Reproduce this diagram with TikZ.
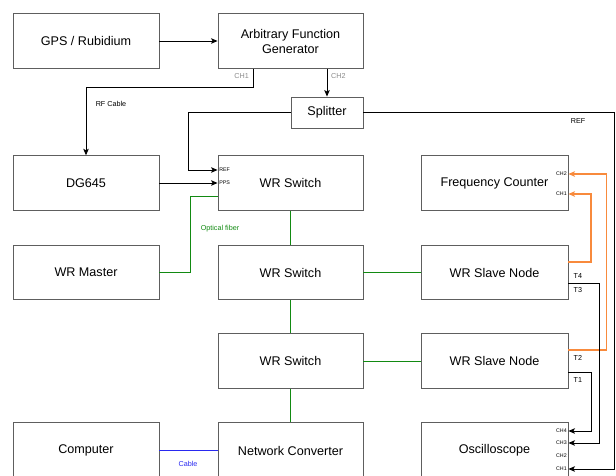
\documentclass[tikz,border=0pt]{standalone}
\usepackage{fontspec}
\setmainfont{Liberation Sans}
\usetikzlibrary{arrows.meta}
\definecolor{frame}{HTML}{5E5E5E}
\definecolor{fibre}{HTML}{128A12}
\definecolor{copper}{HTML}{2929F0}
\definecolor{timing}{HTML}{F88A3C}
\definecolor{chan}{HTML}{8A8A8A}

\begin{document}
\begin{tikzpicture}[x=1pt,y=-1pt,
  box/.style={draw=frame,line width=.9pt,minimum width=146pt,minimum height=54.5pt,inner sep=2pt,
    align=center,font=\fontsize{12.6}{15}\selectfont},
  narrow/.style={box,minimum width=147pt},
  port/.style={inner sep=1.5pt,font=\fontsize{5.3}{6}\selectfont},
  lab/.style={inner sep=1pt,font=\fontsize{7.2}{8}\selectfont},
  arr/.style={line width=.9pt,-{Stealth[length=6.5pt,width=5.5pt,inset=1.5pt]}},
  fiber/.style={fibre,line width=.9pt},
  lan/.style={copper,line width=.9pt},
  tsig/.style={timing,line width=1.2pt,-{Stealth[length=6.5pt,width=5.5pt,inset=1.5pt]}}]
\useasboundingbox (0,0) rectangle (616,475);
% left column
\node[box] (gps) at (86,41) {GPS / Rubidium};
\node[box] (dg) at (86,183) {DG645};
\node[box] (master) at (86,272.5) {WR Master};
\node[box,minimum height=57pt] (pc) at (86,450.5) {Computer};
% middle column
\node[box,minimum width=145pt] (afg) at (290.5,41) {Arbitrary Function\\Generator};
\node[box,minimum width=72pt,minimum height=31pt] (split) at (327,112.5) {Splitter};
\node[box,minimum width=145pt] (sw1) at (290.5,183) {WR Switch};
\node[box,minimum width=145pt] (sw2) at (290.5,272.5) {WR Switch};
\node[box,minimum width=145pt] (sw3) at (290.5,361) {WR Switch};
\node[box,minimum width=145pt,minimum height=57pt] (nc) at (290.5,450.5) {Network Converter};
% right column
\node[narrow] (fc) at (494.5,183) {Frequency Counter};
\node[narrow] (sl1) at (494.5,272.5) {WR Slave Node};
\node[narrow] (sl2) at (494.5,361) {WR Slave Node};
\node[narrow,minimum height=57pt] (osc) at (494.5,450.5) {Oscilloscope};

% reference chain
\draw[arr] (gps) -- (afg);
\draw[arr] ([xshift=-37.5pt]afg.south) -- ++(0,19) -| (dg.north);
\draw[arr] ([xshift=36.5pt]afg.south) -- (split.north);
\node[lab,chan,anchor=east] at ([xshift=-3pt,yshift=-7pt]afg.south -| 253,0) {CH1};
\node[lab,chan,anchor=west] at ([xshift=3pt,yshift=-7pt]afg.south -| 327,0) {CH2};
\node[lab] at (111,104) {RF Cable};
\draw[arr] (split.west) -- ++(-102,0) |- ([yshift=13pt]sw1.west);
\draw[arr] (dg.east) -- (sw1.west);
\node[port,anchor=west] at ([yshift=13pt]sw1.west) {REF};
\node[port,anchor=west] at (sw1.west) {PPS};
\draw[arr] (split.east) -- ++(251,0) |- ([yshift=-18.5pt]osc.east);
\node[lab] at (578,121) {REF};

% white rabbit network
\draw[fiber] (master.east) -- ++(31,0) |- ([yshift=-13.5pt]sw1.west);
\node[lab,fibre] at (220,229) {Optical fiber};
\draw[fiber] (sw1) -- (sw2);
\draw[fiber] (sw2) -- (sl1);
\draw[fiber] (sw2) -- (sw3);
\draw[fiber] (sw3) -- (sl2);
\draw[fiber] (sw3) -- (nc);
\draw[lan] (pc) -- (nc);
\node[lab,copper] at (188,463.5) {Cable};

% timing outputs
\draw[tsig] ([yshift=10.5pt]sl1.east) -- ++(22.5,0) |- ([yshift=-11pt]fc.east);
\draw[tsig] ([yshift=11pt]sl2.east) -- ++(38,0) |- ([yshift=9pt]fc.east);
\draw[arr] ([yshift=-10.5pt]sl1.east) -- ++(30.5,0) |- ([yshift=7.5pt]osc.east);
\draw[arr] ([yshift=-11pt]sl2.east) -- ++(23,0) |- ([yshift=19.5pt]osc.east);
\node[lab,anchor=west] at ([xshift=4pt,yshift=-3.5pt]sl1.east) {T4};
\node[lab,anchor=west] at ([xshift=4pt,yshift=-17.5pt]sl1.east) {T3};
\node[lab,anchor=west] at ([xshift=4pt,yshift=3pt]sl2.east) {T2};
\node[lab,anchor=west] at ([xshift=4pt,yshift=-19pt]sl2.east) {T1};

% channel ports
\node[port,anchor=east] at ([yshift=9pt]fc.east) {CH2};
\node[port,anchor=east] at ([yshift=-11pt]fc.east) {CH1};
\node[port,anchor=east] at ([yshift=19.5pt]osc.east) {CH4};
\node[port,anchor=east] at ([yshift=7.5pt]osc.east) {CH3};
\node[port,anchor=east] at ([yshift=-5pt]osc.east) {CH2};
\node[port,anchor=east] at ([yshift=-18.5pt]osc.east) {CH1};
\end{tikzpicture}
\end{document}
